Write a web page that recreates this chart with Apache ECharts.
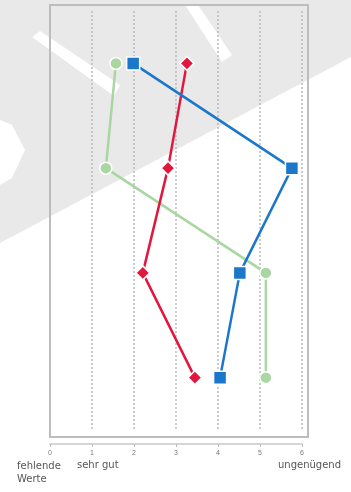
<!DOCTYPE html>
<html>
<head>
<meta charset="utf-8">
<script src="https://cdn.jsdelivr.net/npm/echarts@6/dist/echarts.min.js"></script>
<style>
  html, body { margin: 0; padding: 0; background: #fff; }
  #chart { width: 351px; height: 492px; }
</style>
</head>
<body>
<div id="chart"></div>
<script>
// vier Items von oben nach unten
var items = ['A', 'B', 'C', 'D']
var tickLabels = ['0', '1', '2', '3', '4', '5', '6']
var blueValues = [1.98, 5.76, 4.52, 4.05]
var redValues = [3.26, 2.81, 2.21, 3.45]
var greenValues = [1.57, 1.33, 5.14, 5.14]

var chart = echarts.init(document.getElementById('chart'))

function makeSeries (name, data, color, symbol, size) {
  return {
    name: name,
    type: 'line',
    data: data,
    symbol: symbol,
    symbolSize: size,
    lineStyle: { color: color, width: 2.5 },
    itemStyle: { color: color, borderColor: '#fff', borderWidth: 1.5 },
    z: 5
  }
}

var option = {
  animation: false,
  grid: { left: 50, right: 49, top: 11, height: 419 },
  graphic: [
    // Wasserzeichen im Hintergrund
    { type: 'polygon', z: -10, shape: { points: [[0, 0], [351, 0], [351, 57], [0, 243]] }, style: { fill: '#e9e9e9' } },
    { type: 'polygon', z: -9, shape: { points: [[32, 37], [40, 31], [120, 85], [114, 96]] }, style: { fill: '#fff' } },
    { type: 'polygon', z: -9, shape: { points: [[0, 120], [12, 125], [25, 150], [12, 178], [0, 185]] }, style: { fill: '#fff' } },
    { type: 'polygon', z: -9, shape: { points: [[185, 5], [198, 5], [232, 55], [222, 62]] }, style: { fill: '#fff' } },
    // Rahmen
    { type: 'rect', z: 1, shape: { x: 50, y: 5, width: 258, height: 432 }, style: { fill: 'none', stroke: '#bdbdbd', lineWidth: 2 } },
    { type: 'text', left: 17, top: 460, style: { text: 'fehlende\nWerte', font: '10px "DejaVu Sans"', fill: '#555', lineHeight: 13 } },
    { type: 'text', left: 77, top: 460, style: { text: 'sehr gut', font: '10px "DejaVu Sans"', fill: '#555' } },
    { type: 'text', left: 278, top: 460, style: { text: 'ungenügend', font: '10px "DejaVu Sans"', fill: '#555' } }
  ],
  xAxis: {
    type: 'value',
    min: 0,
    max: 6,
    interval: 1,
    offset: 14,
    axisLine: { show: true, lineStyle: { color: '#c8c8c8', width: 1.5 } },
    axisTick: { show: true, length: 3, lineStyle: { color: '#bbb' } },
    axisLabel: {
      color: '#777',
      fontSize: 7,
      margin: 6,
      formatter: function (v) { return tickLabels[v] }
    },
    splitLine: { show: true, lineStyle: { color: '#bbb', type: [2, 2], width: 1.5 } }
  },
  yAxis: {
    type: 'category',
    data: items,
    inverse: true,
    show: false,
    boundaryGap: true
  },
  series: [
    makeSeries('grün', greenValues, '#a9d6a1', 'circle', 12),
    makeSeries('rot', redValues, '#e2173e', 'diamond', 14),
    makeSeries('blau', blueValues, '#1a77c9', 'rect', 13)
  ]
}
chart.setOption(option)
</script>
</body>
</html>
